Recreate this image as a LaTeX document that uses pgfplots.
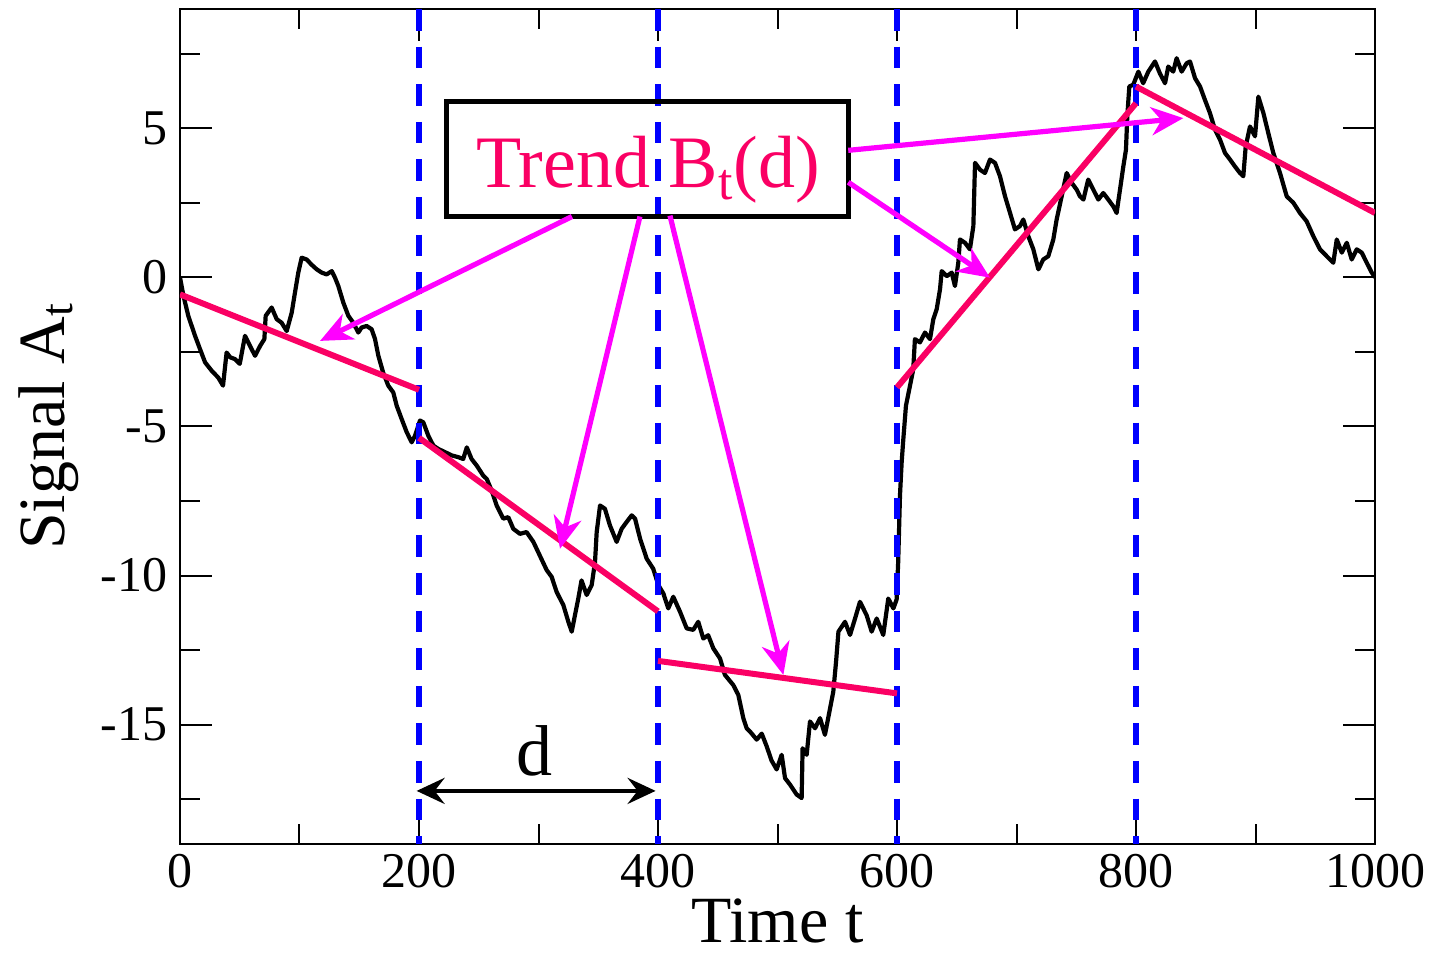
\documentclass[border=0pt]{standalone}
\usepackage{fontspec}
\setmainfont{Liberation Serif}
\usepackage{pgfplots}
\pgfplotsset{compat=1.18}
\usetikzlibrary{arrows.meta}
\definecolor{trendcol}{RGB}{250,0,100}
\definecolor{arrcol}{RGB}{255,0,255}
\begin{document}
\begin{tikzpicture}
\begin{axis}[
  scale only axis, width=597.5pt, height=417.5pt,
  xmin=0, xmax=1000, ymin=-19, ymax=9,
  xtick={0,200,...,1000}, minor xtick={100,300,...,900},
  ytick={-15,-10,...,5}, minor ytick={-17.5,-12.5,...,7.5},
  tick align=inside, xtick pos=both, ytick pos=both,
  major tick length=16pt, minor tick length=10pt,
  axis line style={line width=1pt},
  every tick/.style={line width=1pt, black},
  /pgf/number format/assume math mode=true,
  /pgf/number format/1000 sep={},
  tick label style={font=\fontsize{25}{25}\selectfont},
  xticklabel style={inner sep=2pt, yshift=-3pt},
  yticklabel style={inner sep=2pt, xshift=-4pt},
  xlabel={Time t}, ylabel={Signal A\textsubscript{t}},
  label style={font=\fontsize{33}{33}\selectfont, inner sep=0pt},
  xlabel style={at={(axis description cs:0.5,-0.118)}, anchor=base},
  ylabel style={at={(axis description cs:-0.097,0.5)}, anchor=base},
]
% random-walk signal
\addplot[black, line width=2.1pt, line join=round] table {
0 0
2.8 -0.6
7 -1.3
12.6 -1.96
16.7 -2.4
21 -2.85
26.5 -3.13
32 -3.36
36 -3.63
39 -2.52
42 -2.68
46 -2.74
50 -2.9
54.4 -1.96
58.6 -2.3
62.8 -2.63
67 -2.3
70.6 -2.07
71.7 -1.29
76.7 -1.01
80.9 -1.4
85 -1.52
89.3 -1.8
93.5 -1.18
96.2 -0.51
99 0.16
101.8 0.66
106 0.6
110 0.43
114.4 0.27
118.6 0.16
122.7 0.1
127 0.21
129.7 -0.01
132.5 -0.29
136.7 -0.85
140.9 -1.29
145 -1.52
149.2 -1.85
152 -1.68
156.2 -1.63
160.4 -1.74
163.2 -2.07
166 -2.63
170 -3.19
174.3 -3.63
178.5 -3.86
181.3 -4.3
185.5 -4.75
189.7 -5.19
193.9 -5.53
196.7 -5.31
200.8 -4.8
203.6 -4.86
207.8 -5.31
212 -5.64
216 -5.75
221.8 -5.86
227.4 -5.97
233 -6.03
237 -6.09
240 -5.7
244 -6.09
248.3 -6.31
253.8 -6.65
256.7 -6.76
260.8 -7.15
265 -7.65
270.5 -8.09
274.7 -8.04
278.9 -8.43
284.5 -8.6
290 -8.54
295.7 -8.87
301 -9.32
306.9 -9.82
311 -10.04
315.2 -10.55
320.8 -10.99
325 -11.55
327.8 -11.88
330.5 -11.33
333.3 -10.77
336 -10.16
340.3 -10.65
344.5 -10.32
347.3 -9.54
348.7 -8.54
351.5 -7.65
355.6 -7.76
359.8 -8.32
365.4 -8.87
369.6 -8.43
373.8 -8.2
378 -7.98
380.8 -8.09
385 -8.76
390.5 -9.43
396 -9.77
400.3 -10.32
404.5 -10.6
408.6 -11.1
412.8 -10.71
418.4 -11.21
424 -11.77
429.5 -11.82
433.7 -11.55
437.9 -12.11
442 -12.0
446.3 -12.44
451.9 -12.78
456 -13.33
463 -13.67
467.2 -14.0
471.4 -14.78
474.2 -15.12
477 -15.23
482.6 -15.5
486.8 -15.3
491 -15.73
495 -16.2
499.3 -16.5
503.5 -16.01
506.3 -16.79
510.5 -17.01
516 -17.34
520.2 -17.46
521 -15.79
524.4 -16.01
527.2 -14.89
531.4 -15.12
535.6 -14.78
539.7 -15.34
544 -14.45
546.7 -13.89
549 -12.89
551 -11.88
556.5 -11.55
560.7 -11.99
564.9 -11.44
569 -10.88
574.6 -11.33
578.8 -11.88
583 -11.44
588.5 -11.99
592.7 -10.77
597 -11.1
599.7 -10.8
601 -9.54
602.5 -7.31
603.9 -6.2
605.3 -5.42
607.5 -4.3
610.9 -3.63
613.6 -3.08
615 -2.07
619.2 -2.18
623.4 -1.85
627.6 -2.07
630.4 -1.4
633.2 -1.07
636 -0.4
637.4 0.21
641.6 0.04
645.8 0.16
648.5 -0.29
651.3 0.49
652.7 1.27
656.9 1.16
661 0.94
663.9 1.72
665.3 3.84
669.5 3.61
673.6 3.5
677.8 3.95
682 3.84
686.2 3.39
690.4 2.72
694.6 2.16
698.7 1.61
702.9 1.72
705.7 1.94
709.9 1.38
714.1 0.94
718.3 0.27
722.4 0.6
726.6 0.71
730.8 1.27
733.6 1.94
737.8 2.72
742 3.5
746.2 3.17
750.4 2.94
753.1 2.72
756 2.61
760 3.28
764.3 2.94
768.5 2.61
772.6 2.83
776.8 2.61
781 2.38
783.8 2.16
786.6 2.94
789.4 3.72
791.6 4.28
792.7 5.39
794.4 6.4
797.7 6.46
802 6.9
806 6.51
810.3 6.9
815.9 7.24
820 6.84
824.3 6.51
827 7.07
831.2 6.9
834 7.35
838.2 6.9
842.4 7.18
845.2 7.24
849.4 6.68
853.6 6.4
857.7 5.95
861.9 5.51
866.1 4.95
870.3 4.62
874.5 4.17
878.7 3.95
882.8 3.72
887 3.5
889.8 3.39
891.8 4.39
895.4 5.06
899.6 4.73
902.4 6.06
906.6 5.51
910.7 4.84
914.9 4.17
920.5 3.5
926.1 2.72
931.7 2.5
937.2 2.16
942.8 1.88
948.4 1.38
954 0.94
959.6 0.71
965.1 0.49
968 1.27
972.2 0.83
976.4 1.16
980.5 0.6
984.7 0.94
988.9 0.83
993.1 0.49
997.3 0.16
1000 0.0
};
% segment boundaries
\addplot[blue, line width=2.8pt, dash pattern=on 10.8pt off 8pt] coordinates {(200,9) (200,-19)};
\addplot[blue, line width=2.8pt, dash pattern=on 10.8pt off 8pt] coordinates {(400,9) (400,-19)};
\addplot[blue, line width=2.8pt, dash pattern=on 10.8pt off 8pt] coordinates {(600,9) (600,-19)};
\addplot[blue, line width=2.8pt, dash pattern=on 10.8pt off 8pt] coordinates {(800,9) (800,-19)};
% local trends
\addplot[trendcol, line width=3pt] coordinates {(0,-0.57) (200,-3.77)};
\addplot[trendcol, line width=3pt] coordinates {(200,-5.38) (400,-11.2)};
\addplot[trendcol, line width=3pt] coordinates {(400,-12.86) (600,-13.95)};
\addplot[trendcol, line width=3pt] coordinates {(600,-3.69) (800,5.84)};
\addplot[trendcol, line width=3pt] coordinates {(800,6.4) (1000,2.16)};
% annotation box
\draw[line width=2.5pt] (axis cs:223.4,2.04) rectangle (axis cs:559.8,5.89);
\node[anchor=base, text=trendcol, font=\fontsize{37}{37}\selectfont, inner sep=0pt] at (axis cs:391.6,3.01) {Trend B\textsubscript{t}(d)};
% arrows
\begin{scope}[arrcol, line width=2.6pt, -{Stealth[length=16pt, width=14pt, inset=5pt]}]
\draw (axis cs:328,2.04) -- (axis cs:117.2,-2.13);
\draw (axis cs:384.9,2.04) -- (axis cs:318,-9.10);
\draw (axis cs:410,2.07) -- (axis cs:504.9,-13.33);
\draw (axis cs:559.2,3.19) -- (axis cs:677.8,-0.01);
\draw (axis cs:559.2,4.26) -- (axis cs:839.6,5.34);
\end{scope}
% window width d
\draw[black, line width=2.2pt, {Stealth[length=14pt, width=13pt, inset=5pt]}-{Stealth[length=14pt, width=13pt, inset=5pt]}] (axis cs:198,-17.22) -- (axis cs:398,-17.22);
\node[anchor=base, font=\fontsize{36}{36}\selectfont, inner sep=0pt] at (axis cs:297,-16.72) {d};
\end{axis}
\pgfresetboundingbox
\path[use as bounding box] (-90pt,-56pt) rectangle (625.5pt,422pt);
\end{tikzpicture}
\end{document}
